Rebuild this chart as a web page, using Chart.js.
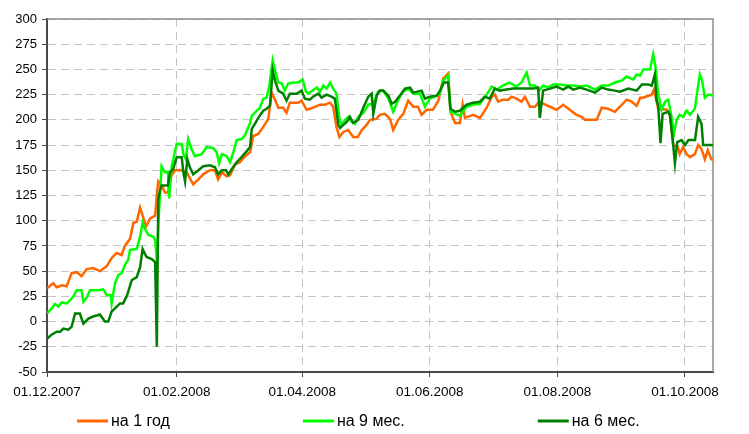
<!DOCTYPE html>
<html>
<head>
<meta charset="utf-8">
<script src="https://cdn.jsdelivr.net/npm/chart.js@4"></script>
<style>
  html, body { margin: 0; background: #fff; }
</style>
</head>
<body>
<canvas id="grafik" width="749" height="434"></canvas>
<script>
// ось X: дни от 01.12.2007
const tickDays = [0, 62, 122, 183, 244, 305];
const tickLabels = ['01.12.2007', '01.02.2008', '01.04.2008', '01.06.2008', '01.08.2008', '01.10.2008'];
const seriesNames = ['на 1 год', 'на 9 мес.', 'на 6 мес.'];

const dni1God = [
  0, 3.0, 4.6, 7.1, 9.4, 11.8, 14.2, 16.5, 19.0, 22.1,
  25.3, 28.6, 30.9, 33.3, 35.7, 37.2, 39.7, 41.3, 42.9, 44.5,
  45.3, 47.3, 49.2, 51.7, 52.7, 53.2, 54.8, 56.4, 57.8, 59.6,
  61.2, 64.4, 66.8, 69.9, 72.4, 74.7, 77.9, 80.3, 81.8, 83.6,
  85.9, 87.5, 89.9, 92.2, 94.7, 97.1, 98.6, 101.0, 103.4, 105.8,
  107.4, 109.0, 110.6, 112.9, 114.5, 116.1, 120.1, 121.7, 124.1, 127.2,
  130.5, 132.9, 135.3, 136.8, 138.4, 139.8, 141.7, 144.0, 146.4, 148.6,
  150.5, 152.8, 154.4, 157.6, 159.1, 161.5, 164.0, 165.5, 167.9, 170.3,
  172.7, 175.1, 177.3, 179.1, 181.5, 184.5, 187.1, 189.4, 191.8, 192.9,
  195.1, 197.4, 198.7, 199.8, 203.7, 207.0, 210.2, 212.6, 214.1, 215.7,
  218.0, 220.5, 222.1, 224.5, 226.9, 228.5, 230.9, 233.3, 235.3, 237.2,
  240.5, 243.6, 246.8, 249.9, 253.2, 255.6, 257.2, 259.5, 262.8, 265.2,
  268.2, 271.5, 273.9, 277.1, 279.5, 281.9, 283.6, 284.9, 289.1, 290.2,
  292.2, 296.3, 297.8, 299.4, 301.6, 302.5, 304.1, 305.8, 307.4, 309.7,
  311.3, 312.9, 314.5, 315.9, 317.6, 318.4
];
const na1God = [
  33, 38, 34, 36, 35, 48, 49, 45, 52, 53,
  50, 55, 63, 68, 66, 75, 82, 98, 99, 113,
  108, 94, 102, 105, 130, 139, 135, 128, 128, 145,
  150, 150, 148, 136, 141, 146, 150, 150, 141, 148,
  144, 145, 156, 158, 164, 168, 184, 186, 193, 201,
  227, 220, 212, 212, 207, 217, 217, 219, 210, 212,
  215, 215, 217, 213, 193, 183, 188, 190, 183, 183,
  190, 195, 200, 201, 205, 206, 201, 190, 200, 206,
  219, 213, 213, 205, 210, 210, 219, 241, 246, 208,
  197, 197, 215, 202, 205, 202, 212, 223, 225, 218,
  220, 220, 223, 221, 218, 223, 213, 213, 218, 216,
  213, 210, 215, 210, 205, 203, 200, 200, 200, 212,
  211, 208, 213, 220, 218, 214, 222, 222, 225, 230,
  211, 210, 205, 175, 173, 166, 173, 166, 163, 166,
  175, 171, 161, 170, 161, 160
];

const dni9Mes = [
  0, 2.2, 3.8, 5.4, 7.1, 9.4, 11.0, 12.6, 14.2, 16.5,
  17.4, 19.0, 20.6, 24.5, 26.9, 28.6, 30.5, 30.9, 32.5, 34.1,
  35.7, 37.2, 38.8, 39.7, 42.9, 44.5, 45.7, 46.8, 48.4, 50.9,
  51.7, 52.6, 53.3, 54.8, 56.4, 57.8, 58.4, 59.6, 62.0, 64.4,
  65.2, 66.4, 67.5, 69.1, 70.7, 74.0, 76.3, 79.5, 81.1, 82.3,
  83.6, 85.9, 87.5, 89.1, 90.7, 93.0, 94.7, 97.1, 97.9, 100.2,
  101.8, 103.4, 105.0, 106.3, 107.9, 109.0, 110.6, 112.2, 113.7, 115.3,
  117.8, 120.1, 122.2, 123.8, 124.9, 129.0, 130.5, 132.1, 133.7, 135.3,
  136.8, 138.4, 139.8, 140.9, 142.5, 144.0, 145.6, 147.2, 148.8, 151.2,
  153.6, 156.0, 158.3, 160.7, 163.2, 165.5, 167.9, 170.3, 172.7, 175.1,
  178.3, 180.7, 183.0, 185.5, 187.9, 189.4, 191.8, 192.9, 195.1, 197.4,
  200.6, 203.7, 207.0, 210.2, 212.6, 215.1, 217.9, 221.1, 224.3, 226.9,
  229.3, 230.9, 233.3, 235.3, 237.2, 239.5, 242.0, 245.2, 248.4, 251.6,
  254.8, 258.0, 262.0, 265.2, 268.3, 271.5, 274.8, 277.1, 280.3, 281.9,
  283.6, 285.1, 288.3, 289.8, 291.1, 292.2, 293.8, 295.5, 297.0, 298.6,
  299.7, 301.0, 302.5, 304.1, 305.8, 307.4, 309.7, 311.3, 312.1, 313.1,
  314.5, 316.1, 318.4
];
const na9Mes = [
  8, 13, 17.5, 15, 19, 18, 21, 25, 31, 31,
  19.5, 24, 31, 31, 32, 26, 26, 18, 38, 46,
  48, 56, 61, 71, 72, 84, 98, 92, 86, 84,
  81, 58, 100, 154, 148, 148, 122, 154, 176, 176,
  166, 161, 181, 171, 164, 166, 173, 172, 168, 157,
  166, 164, 158, 168, 180, 181, 185, 197, 204, 209,
  212, 221, 222, 234, 259, 249, 237, 236, 229, 236,
  237, 237, 240, 228, 226, 232, 228, 234, 231, 237,
  231, 226, 201, 195, 200, 203, 198, 196, 203, 207,
  215, 216, 228, 229, 221, 208, 220, 228, 231, 226,
  226, 213, 221, 223, 226, 239, 244, 208, 206, 204,
  213, 215, 216, 225, 233, 230, 234, 237, 233, 237,
  247, 234, 234, 229, 234, 232, 235, 235, 234, 234,
  233, 234, 230, 234, 234, 237, 239, 243, 240, 245,
  244, 250, 250, 265, 250, 226, 210, 218, 220, 203,
  186, 200, 205, 203, 209, 205, 211, 234, 245, 240,
  222, 225, 224
];

const dni6Mes = [
  0, 2.2, 4.6, 6.3, 7.8, 10.2, 11.8, 13.4, 15.7, 17.4,
  19.8, 22.1, 25.3, 27.7, 29.3, 30.9, 32.5, 34.9, 36.4, 38.3,
  40.5, 42.9, 44.5, 45.7, 47.6, 50.1, 51.7, 52.5, 53.2, 54.0,
  54.8, 57.8, 58.8, 60.3, 62.0, 64.4, 65.2, 66.0, 67.1, 68.3,
  69.9, 72.4, 74.7, 77.9, 80.3, 81.8, 83.6, 85.6, 86.7, 88.3,
  90.7, 93.0, 95.5, 97.1, 97.9, 99.4, 101.0, 103.4, 105.0, 106.6,
  107.9, 109.0, 110.6, 112.9, 114.5, 116.1, 119.4, 121.7, 123.3, 125.7,
  127.2, 129.7, 131.3, 133.7, 136.0, 137.6, 139.3, 140.1, 141.7, 143.3,
  144.8, 146.4, 148.8, 151.2, 153.6, 155.2, 156.0, 157.6, 159.1, 160.7,
  163.2, 164.8, 166.4, 168.7, 171.1, 173.6, 175.1, 179.1, 180.7, 183.0,
  186.3, 187.9, 189.8, 191.8, 192.9, 195.1, 197.4, 200.6, 203.7, 207.0,
  209.3, 211.7, 214.1, 216.4, 219.7, 222.8, 226.0, 229.3, 232.5, 234.8,
  235.6, 237.2, 240.5, 243.6, 246.8, 249.2, 251.6, 254.8, 258.0, 262.0,
  265.2, 268.3, 271.5, 273.9, 277.9, 281.9, 284.4, 287.5, 289.1, 290.6,
  291.4, 292.2, 293.3, 294.3, 297.0, 297.8, 299.1, 300.2, 301.3, 303.4,
  305.0, 306.7, 309.8, 311.3, 312.9, 313.7, 315.9, 318.4
];
const na6Mes = [
  -17, -13, -10, -10, -7, -8, -5, 8, 8, -2,
  3, 5, 7, 0, 0, 10, 13, 18, 18, 26,
  41, 44, 54, 72, 64, 62, 59, -25, 121, 130,
  135, 135, 148, 151, 163, 163, 148, 139, 161, 153,
  146, 150, 154, 155, 153, 146, 150, 150, 146, 151,
  158, 163, 169, 173, 191, 196, 202, 209, 211, 214,
  249, 239, 229, 226, 219, 226, 226, 229, 221, 220,
  223, 226, 222, 225, 223, 221, 195, 192, 195, 198,
  203, 197, 200, 212, 223, 226, 206, 224, 229, 229,
  224, 216, 218, 224, 231, 232, 227, 229, 221, 223,
  224, 229, 237, 237, 211, 208, 209, 215, 217, 218,
  223, 221, 231, 229, 230, 231, 231, 231, 231, 232,
  202, 229, 231, 233, 230, 233, 230, 232, 230, 227,
  232, 230, 229, 228, 231, 229, 235, 235, 234, 245,
  220, 214, 177, 206, 208, 205, 181, 157, 178, 180,
  175, 180, 180, 203, 196, 175, 175, 175
];

const seriesColors = ['#ff6600', '#00ff00', '#008000'];

function toPoints(days, vals) {
    return days.map((d, i) => ({ x: d, y: vals[i] }));
}

const shrift = 'Arial, "Liberation Sans", sans-serif';

// рамка сверху и справа
const ramkaPlugin = {
    id: 'ramka',
    beforeDatasetsDraw(chart) {
        const { ctx, chartArea: a } = chart;
        ctx.save();
        ctx.strokeStyle = '#8c8c8c';
        ctx.lineWidth = 1.5;
        ctx.beginPath();
        ctx.moveTo(a.left, a.top);
        ctx.lineTo(a.right, a.top);
        ctx.lineTo(a.right, a.bottom);
        ctx.stroke();
        ctx.restore();
    }
};

// легенда внизу, элементы разнесены широко
const legendaPlugin = {
    id: 'legenda',
    afterDraw(chart) {
        const ctx = chart.ctx;
        const sets = chart.data.datasets;
        const lineLen = 31, gap = 3, spacing = 133, startX = 77, y = 421;
        ctx.save();
        ctx.font = '16px ' + shrift;
        ctx.textBaseline = 'middle';
        let x = startX;
        sets.forEach(ds => {
            ctx.strokeStyle = ds.borderColor;
            ctx.lineWidth = 3;
            ctx.beginPath();
            ctx.moveTo(x, y);
            ctx.lineTo(x + lineLen, y);
            ctx.stroke();
            ctx.fillStyle = '#000';
            ctx.fillText(ds.label, x + lineLen + gap, y + 1);
            x += lineLen + gap + ctx.measureText(ds.label).width + spacing;
        });
        ctx.restore();
    }
};

const ctx = document.getElementById('grafik').getContext('2d');
new Chart(ctx, {
    type: 'line',
    data: {
        datasets: [
            { label: seriesNames[0], data: toPoints(dni1God, na1God), borderColor: seriesColors[0], order: 2 },
            { label: seriesNames[1], data: toPoints(dni9Mes, na9Mes), borderColor: seriesColors[1], order: 1 },
            { label: seriesNames[2], data: toPoints(dni6Mes, na6Mes), borderColor: seriesColors[2], order: 0 }
        ]
    },
    options: {
        responsive: false,
        animation: false,
        parsing: false,
        elements: {
            line: { borderWidth: 2.5, tension: 0, fill: false },
            point: { radius: 0 }
        },
        layout: { padding: { left: 15, right: 36, top: 19, bottom: 34 } },
        plugins: {
            legend: { display: false },
            tooltip: { enabled: false }
        },
        scales: {
            x: {
                type: 'linear',
                min: 0,
                max: 318.4,
                afterBuildTicks: scale => { scale.ticks = tickDays.map(v => ({ value: v })); },
                afterFit: scale => { scale.height = 28; },
                ticks: {
                    autoSkip: false,
                    maxRotation: 0,
                    padding: 7,
                    color: '#000',
                    font: { size: 13.5, family: shrift },
                    callback: v => tickLabels[tickDays.indexOf(v)] || ''
                },
                grid: { color: '#c4c4c4', lineWidth: 1, tickLength: 5, tickColor: '#4a4a4a', tickBorderDash: [] },
                border: { display: true, color: '#4a4a4a', width: 2, dash: [8, 5] }
            },
            y: {
                min: -50,
                max: 300,
                afterFit: scale => { scale.width = 32; },
                ticks: {
                    stepSize: 25,
                    padding: 5,
                    color: '#000',
                    font: { size: 13, family: shrift }
                },
                grid: { color: '#c4c4c4', lineWidth: 1, tickLength: 5, tickColor: '#4a4a4a', tickBorderDash: [] },
                border: { display: true, color: '#4a4a4a', width: 2, dash: [8, 5] }
            }
        }
    },
    plugins: [ramkaPlugin, legendaPlugin]
});
</script>
</body>
</html>
